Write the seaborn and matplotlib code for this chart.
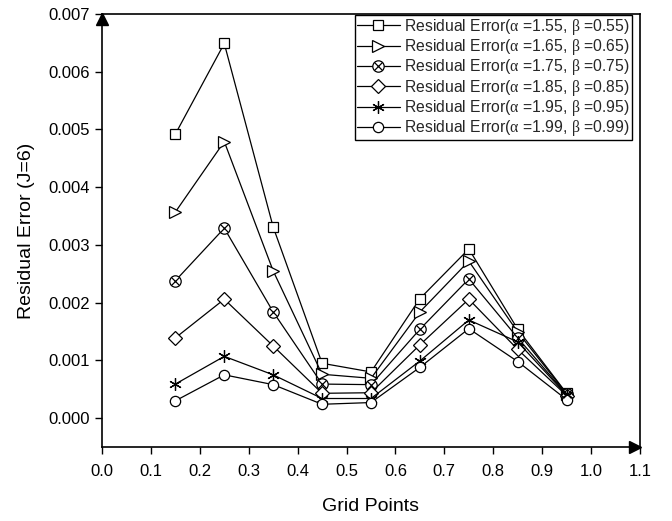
import numpy as np
import pandas as pd
import matplotlib
matplotlib.use("Agg")
import matplotlib.pyplot as plt
import seaborn as sns
from matplotlib.transforms import offset_copy
from matplotlib.legend_handler import HandlerTuple
from matplotlib.lines import Line2D
from matplotlib.ticker import FormatStrFormatter, MultipleLocator

grid_points = [0.15, 0.25, 0.35, 0.45, 0.55, 0.65, 0.75, 0.85, 0.95]
err_155 = [0.00492, 0.00649, 0.00331, 0.00095, 0.00080, 0.00207, 0.00293, 0.00154, 0.00043]
err_165 = [0.00357, 0.00479, 0.00255, 0.00076, 0.00069, 0.00184, 0.00272, 0.00149, 0.00042]
err_175 = [0.00238, 0.00329, 0.00184, 0.00059, 0.00058, 0.00154, 0.00241, 0.00139, 0.00041]
err_185 = [0.00139, 0.00206, 0.00125, 0.00043, 0.00044, 0.00127, 0.00206, 0.00119, 0.00039]
err_195 = [0.00059, 0.00107, 0.00075, 0.00034, 0.00034, 0.00099, 0.00170, 0.00132, 0.00040]
err_199 = [0.00030, 0.00075, 0.00058, 0.00024, 0.00027, 0.00088, 0.00155, 0.00098, 0.00032]

labels = [
    r"Residual Error($\alpha$ =1.55, $\beta$ =0.55)",
    r"Residual Error($\alpha$ =1.65, $\beta$ =0.65)",
    r"Residual Error($\alpha$ =1.75, $\beta$ =0.75)",
    r"Residual Error($\alpha$ =1.85, $\beta$ =0.85)",
    r"Residual Error($\alpha$ =1.95, $\beta$ =0.95)",
    r"Residual Error($\alpha$ =1.99, $\beta$ =0.99)",
]
series = [err_155, err_165, err_175, err_185, err_195, err_199]

sns.set_theme(style="ticks")
plt.rcParams["font.family"] = ["Liberation Sans", "DejaVu Sans"]
plt.rcParams["mathtext.fontset"] = "custom"
plt.rcParams["mathtext.rm"] = "Liberation Serif"
plt.rcParams["mathtext.it"] = "Liberation Serif"
plt.rcParams["mathtext.bf"] = "Liberation Serif:bold"

fig = plt.figure(figsize=(6.72, 5.21), dpi=100)
ax = fig.add_axes([102 / 672, 1 - 447 / 521, (640 - 102) / 672, (447 - 14) / 521])

markers = ["s", ">", "o", "D", (6, 2, 0), "o"]
msizes = [7.8, 8.8, 8.2, 7.2, 9.0, 7.4]
handles = []
for vals, lab, mk, ms in zip(series, labels, markers, msizes):
    df = pd.DataFrame({"x": grid_points, "y": vals})
    sns.lineplot(data=df, x="x", y="y", ax=ax, color="black", linewidth=0.9,
                 marker=mk, markersize=ms, markerfacecolor="white",
                 markeredgecolor="black", markeredgewidth=0.9, zorder=3)
    h = Line2D([], [], color="black", linewidth=0.9, marker=mk, markersize=ms,
               markerfacecolor="white", markeredgecolor="black", markeredgewidth=0.9)
    if "1.75" in lab:
        sns.scatterplot(data=df, x="x", y="y", ax=ax, marker="x", s=33,
                        color="black", linewidth=0.9, zorder=4)
        hx = Line2D([], [], linestyle="none", marker="x", markersize=5.7,
                    color="black", markeredgewidth=0.9)
        h = (h, hx)
    handles.append(h)

ax.set_xlim(0.0, 1.1)
ax.set_ylim(-0.0005, 0.007)
ax.xaxis.set_major_locator(MultipleLocator(0.1))
ax.xaxis.set_major_formatter(FormatStrFormatter("%.1f"))
ax.yaxis.set_major_formatter(FormatStrFormatter("%.3f"))
ax.set_yticks(np.arange(0, 0.0071, 0.001))

for sp in ax.spines.values():
    sp.set_visible(True)
    sp.set_linewidth(1.2)
    sp.set_color("black")
ax.tick_params(axis="both", direction="out", length=5, width=1, color="black",
               labelsize=12, labelcolor="black", top=False, right=False)
ax.tick_params(axis="x", pad=7)

ax.set_xlabel("Grid Points", fontsize=14, labelpad=14, color="black")
ax.set_ylabel("Residual Error (J=6)", fontsize=14, labelpad=10, color="black")

# arrow heads
tr_up = offset_copy(ax.transAxes, fig=fig, x=0, y=-5, units="dots")
ax.plot([0], [1], marker="^", markersize=8, color="black", transform=tr_up, clip_on=False, zorder=5)
tr_right = offset_copy(ax.transAxes, fig=fig, x=-5, y=0, units="dots")
ax.plot([1], [0], marker=">", markersize=8, color="black", transform=tr_right, clip_on=False, zorder=5)

leg = ax.legend(handles, labels, loc="upper right", bbox_to_anchor=(0.985, 0.998),
                borderaxespad=0, fontsize=11.3, frameon=True, fancybox=False,
                edgecolor="black", framealpha=1, handlelength=2.7, handletextpad=0.3,
                labelspacing=0.02, borderpad=0.12,
                handler_map={tuple: HandlerTuple(ndivide=1)})
leg.get_frame().set_linewidth(1.0)

fig.savefig("out.png", dpi=100)
